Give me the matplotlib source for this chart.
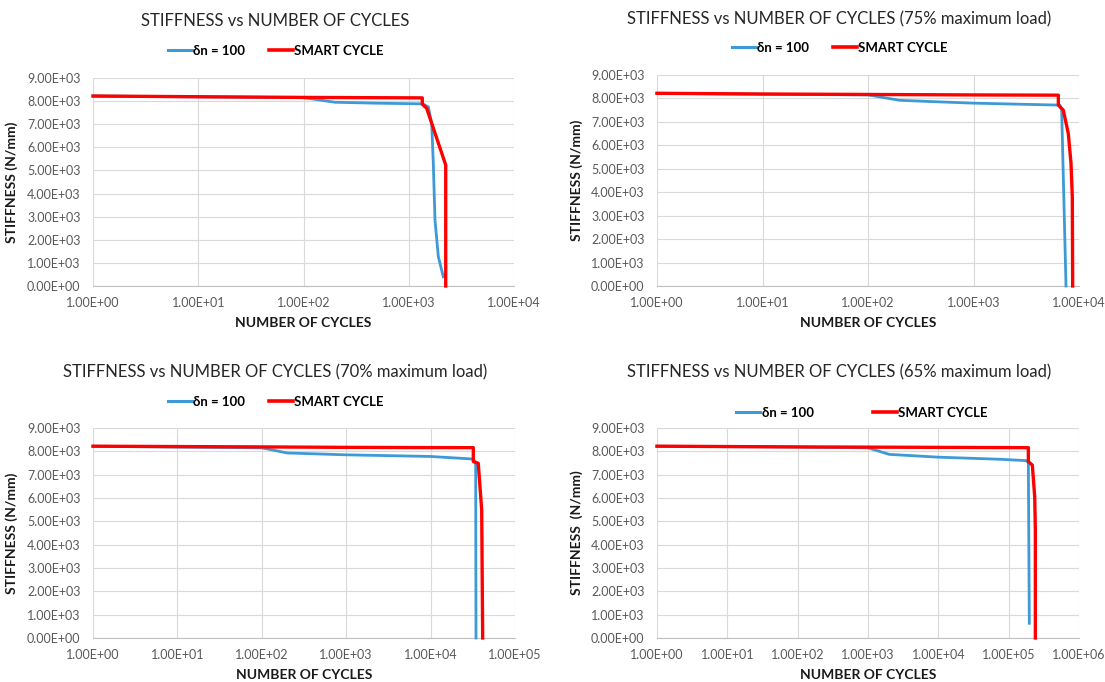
import numpy as np
import matplotlib.pyplot as plt
from matplotlib.ticker import FixedLocator, FuncFormatter, NullLocator
from matplotlib.lines import Line2D

plt.rcParams['font.family'] = ['Lato', 'DejaVu Sans']

titles = ['STIFFNESS vs NUMBER OF CYCLES',
          'STIFFNESS vs NUMBER OF CYCLES (75% maximum load)',
          'STIFFNESS vs NUMBER OF CYCLES (70% maximum load)',
          'STIFFNESS vs NUMBER OF CYCLES (65% maximum load)']
ylabels = ['STIFFNESS (N/mm)', 'STIFFNESS (N/mm)', 'STIFFNESS (N/mm)', 'STIFFNESS  (N/mm)']
xlabel = 'NUMBER OF CYCLES'
legend_labels = ['δn = 100', 'SMART CYCLE']
x_decades = [4, 4, 5, 6]
y_ticks = [0, 1000, 2000, 3000, 4000, 5000, 6000, 7000, 8000, 9000]

# delta n = 100 curves
blue1_x = [1, 10, 100, 200, 500, 1000, 1360, 1535, 1652, 1711, 1775, 1910, 2130]
blue1_y = [8220, 8180, 8150, 7950, 7910, 7890, 7880, 7750, 7040, 5310, 2860, 1270, 400]
blue2_x = [1, 10, 100, 200, 500, 1000, 3000, 6000, 6600, 6850, 7530]
blue2_y = [8220, 8180, 8150, 7920, 7850, 7800, 7750, 7720, 7715, 7500, 0]
blue3_x = [1, 10, 100, 200, 1000, 10000, 32000, 34200, 34500]
blue3_y = [8220, 8180, 8150, 7930, 7850, 7780, 7670, 7490, 0]
blue4_x = [1, 10, 100, 1000, 2000, 10000, 75300, 180700, 190500, 196600]
blue4_y = [8220, 8200, 8180, 8150, 7870, 7750, 7660, 7600, 7490, 630]

# smart cycle curves
red1_x = [1, 10, 100, 1345, 1345, 1480, 2245, 2245]
red1_y = [8220, 8190, 8160, 8140, 7870, 7690, 5235, 0]
red2_x = [1, 10, 100, 1000, 6370, 6370, 7100, 7920, 8400, 8640, 8710]
red2_y = [8220, 8190, 8170, 8150, 8140, 7715, 7500, 6500, 5230, 3800, 0]
red3_x = [1, 100, 1000, 10000, 32060, 32060, 36700, 40300, 41400]
red3_y = [8220, 8190, 8170, 8160, 8157, 7560, 7490, 5490, 0]
red4_x = [1, 100, 10000, 190500, 190500, 217000, 234500, 239500, 239500]
red4_y = [8220, 8190, 8170, 8157, 7560, 7410, 6060, 4630, 0]

blues = [(blue1_x, blue1_y), (blue2_x, blue2_y), (blue3_x, blue3_y), (blue4_x, blue4_y)]
reds = [(red1_x, red1_y), (red2_x, red2_y), (red3_x, red3_y), (red4_x, red4_y)]

W, H = 1105, 682
boxes = [(93, 78, 514, 286), (657, 75, 1079, 286), (93, 428, 515, 638), (657, 428, 1079, 638)]
title_pos = [(275, 21), (839, 19), (275, 372), (839, 372)]
legend_pos = [(276, 51), (840, 48), (276, 402), (862, 413)]
legend_gap = [1.8, 1.8, 1.8, 4.5]
ylabel_x = [18, 583, 18, 583]

blue = '#3D9AD6'
red = '#FF0000'

fig = plt.figure(figsize=(11.05, 6.82), dpi=100)
fmt = FuncFormatter(lambda v, p: f'{v:.2E}')

for i in range(4):
    l, t, r, b = boxes[i]
    ax = fig.add_axes([l / W, 1 - b / H, (r - l) / W, (b - t) / H])
    ax.set_xscale('log')
    ax.set_xlim(1, 10.0 ** x_decades[i])
    ax.set_ylim(0, 9000)
    ax.xaxis.set_major_locator(FixedLocator(10.0 ** np.arange(x_decades[i] + 1)))
    ax.xaxis.set_minor_locator(NullLocator())
    ax.yaxis.set_major_locator(FixedLocator(y_ticks))
    ax.xaxis.set_major_formatter(fmt)
    ax.yaxis.set_major_formatter(fmt)
    ax.tick_params(length=0, labelsize=9, colors='#595959')
    ax.tick_params(axis='x', pad=8)
    ax.tick_params(axis='y', pad=9)
    ax.grid(True, color='#D9D9D9', lw=0.8)
    ax.set_axisbelow(True)
    for s in ['top', 'right', 'left']:
        ax.spines[s].set_visible(False)
    ax.spines['bottom'].set_color('#BFBFBF')

    ax.plot(blues[i][0], blues[i][1], color=blue, lw=2.0, zorder=3, clip_on=False)
    ax.plot(reds[i][0], reds[i][1], color=red, lw=2.4, zorder=4, clip_on=False)

    ax.set_xlabel(xlabel, fontsize=10, fontweight='bold', color='#1a1a1a', va='center')
    ax.xaxis.set_label_coords(0.5, -37 / (b - t))
    ax.set_ylabel(ylabels[i], fontsize=10, fontweight='bold', color='#1a1a1a')
    ax.yaxis.set_label_coords((ylabel_x[i] - l) / (r - l), 0.5)

    fig.text(title_pos[i][0] / W, 1 - title_pos[i][1] / H, titles[i],
             ha='center', va='center', fontsize=12, color='#262626')
    handles = [Line2D([], [], color=blue, lw=2.2), Line2D([], [], color=red, lw=2.6)]
    fig.legend(handles, legend_labels, loc='center', ncol=2, frameon=False,
               bbox_to_anchor=(legend_pos[i][0] / W, 1 - legend_pos[i][1] / H),
               handlelength=1.8, handletextpad=0.1, columnspacing=legend_gap[i],
               prop={'weight': 'bold', 'size': 9.5})

fig.savefig('out.png', dpi=100)
